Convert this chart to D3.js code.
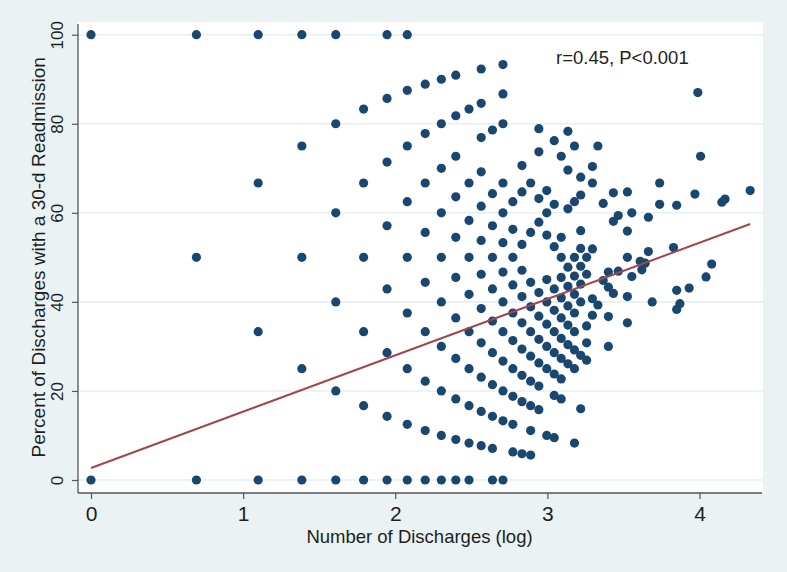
<!DOCTYPE html>
<html>
<head>
<meta charset="utf-8">
<script src="https://cdn.jsdelivr.net/npm/d3@7/dist/d3.min.js"></script>
<style>
  html, body { margin: 0; padding: 0; background: #eaf2f3; }
  svg { display: block; }
  text { font-family: "Liberation Sans", Arial, sans-serif; fill: #1e1e1e; }
</style>
</head>
<body>
<svg id="chart" width="787" height="572"></svg>
<script>
// ---- data ----
// x positions of each column: log(number of discharges)
const columnLogX = [
  0, 0.693, 1.099, 1.386, 1.609, 1.792, 1.946, 2.079, 2.197, 2.303,
  2.398, 2.485, 2.565, 2.639, 2.708, 2.773, 2.833, 2.890, 2.944, 2.996,
  3.045, 3.091, 3.135, 3.178, 3.219, 3.258, 3.296, 3.332, 3.367, 3.401,
  3.434, 3.466, 3.526, 3.555
];
// percent of discharges with a 30-d readmission, per column
const columnPct = [
  [100, 0],
  [100, 50, 0],
  [100, 66.7, 33.3, 0],
  [100, 75, 50, 25, 0],
  [100, 80, 60, 40, 20, 0],
  [83.3, 66.7, 50, 33.3, 16.7, 0],
  [100, 85.7, 71.4, 57.1, 42.9, 28.6, 14.3, 0],
  [100, 87.5, 75, 62.5, 50, 37.5, 25, 12.5, 0],
  [88.9, 77.8, 66.7, 55.6, 44.4, 33.3, 22.2, 11.1, 0],
  [90, 80, 70, 60, 50, 40, 30, 20, 10, 0],
  [90.9, 81.8, 72.7, 63.6, 54.5, 45.5, 36.4, 27.3, 18.2, 9.1, 0],
  [83.3, 66.7, 58.3, 50, 41.7, 33.3, 25, 16.7, 8.3, 0],
  [92.3, 84.6, 76.9, 69.2, 61.5, 53.8, 46.2, 38.5, 30.8, 23.1, 15.4, 7.7],
  [78.6, 64.3, 57.1, 50, 42.9, 35.7, 28.6, 21.4, 14.3, 7.1, 0],
  [93.3, 86.7, 80, 66.7, 60, 53.3, 46.7, 40, 33.3, 26.7, 20, 13.3, 0],
  [62.5, 56.3, 50, 43.8, 37.5, 31.3, 25, 18.8, 12.5, 6.3],
  [70.6, 64.7, 52.9, 47.1, 41.2, 35.3, 29.4, 23.5, 17.6, 5.9],
  [66.7, 55.6, 44.4, 38.9, 33.3, 27.8, 22.2, 16.7, 11.1, 5.6],
  [78.9, 73.7, 63.2, 57.9, 42.1, 36.8, 31.6, 26.3, 21.1, 15.8],
  [65, 60, 55, 45, 40, 35, 30, 25, 10],
  [76.2, 61.9, 52.4, 42.9, 38.1, 33.3, 28.6, 23.8, 19.0, 9.5],
  [72.7, 54.5, 50, 45.5, 40.9, 36.4, 31.8, 27.3, 22.7, 18.2],
  [78.3, 69.6, 60.9, 47.8, 43.5, 39.1, 34.8, 30.4, 26.1],
  [75, 62.5, 50, 45.8, 41.7, 37.5, 33.3, 29.2, 25, 8.3],
  [68, 64, 56, 52, 48, 44, 40, 28, 16],
  [50, 46.2, 34.6, 30.8, 26.9],
  [70.4, 66.7, 51.9, 40.7, 37.0],
  [75, 39.3],
  [62.1, 44.8],
  [46.7, 43.3, 36.7, 30],
  [64.5, 58.1, 41.9],
  [59.4, 46.9],
  [64.7, 55.9, 50, 41.2, 35.3],
  [60, 45.7]
];
// sparse points at the right (large hospitals)
const extraLogX = [3.610, 3.643, 3.621, 3.664, 3.664, 3.689, 3.738, 3.738, 3.829, 3.850,
                   3.850, 3.850, 3.871, 3.932, 3.970, 3.989, 4.007, 4.043, 4.080, 4.147,
                   4.168, 4.333];
const extraPct  = [49.1, 48.7, 47.2, 59.0, 51.3, 40.0, 66.7, 61.9, 52.2, 61.7,
                   42.6, 38.3, 39.6, 43.1, 64.2, 87.0, 72.7, 45.6, 48.5, 62.4,
                   63.1, 65.0];
// linear fit
const fitX = [0, 4.333];
const fitY = [2.7, 57.5];

const xTicks = [0, 1, 2, 3, 4];
const yTicks = [0, 20, 40, 60, 80, 100];
const xTitle = "Number of Discharges (log)";
const yTitle = "Percent of Discharges with a 30-d Readmission";
const annotation = "r=0.45, P<0.001";

// ---- build ----
const points = [];
columnLogX.forEach((x, i) => columnPct[i].forEach(y => points.push({x, y})));
extraLogX.forEach((x, i) => points.push({x, y: extraPct[i]}));

const svg = d3.select("#chart");
const W = 787, H = 572;
const plotL = 78, plotR = 763, plotT = 22, plotB = 493;

const x = d3.scaleLinear().domain([0, 4]).range([91, 699.5]);
const y = d3.scaleLinear().domain([0, 100]).range([480, 34.7]);

svg.append("rect").attr("width", W).attr("height", H).attr("fill", "#eaf2f3");
svg.append("rect").attr("x", plotL).attr("y", plotT)
  .attr("width", plotR - plotL).attr("height", plotB - plotT).attr("fill", "#ffffff");

// gridlines
svg.append("g").selectAll("line").data(yTicks).join("line")
  .attr("x1", plotL).attr("x2", plotR)
  .attr("y1", d => y(d)).attr("y2", d => y(d))
  .attr("stroke", "#e6eff1").attr("stroke-width", 1.6);

// y axis
const yAxis = svg.append("g").attr("transform", `translate(${plotL},0)`)
  .call(d3.axisLeft(y).tickValues(yTicks).tickSize(6).tickPadding(9));
yAxis.select(".domain").attr("d", `M0,${plotT + 2}V${plotB}`).attr("stroke", "#555").attr("stroke-width", 1.3);
yAxis.selectAll(".tick line").attr("stroke", "#555").attr("stroke-width", 1.2);
yAxis.selectAll(".tick text")
  .attr("x", null).attr("dy", null)
  .attr("transform", "translate(-15,0) rotate(-90)")
  .attr("text-anchor", "middle")
  .style("font-size", "17px").style("font-family", "'Liberation Sans', Arial, sans-serif")
  .attr("fill", "#1e1e1e");

// x axis
const xAxis = svg.append("g").attr("transform", `translate(0,${plotB})`)
  .call(d3.axisBottom(x).tickValues(xTicks).tickFormat(d3.format("d")).tickSize(6));
xAxis.select(".domain").attr("d", `M${plotL},0H${plotR - 1}`).attr("stroke", "#555").attr("stroke-width", 1.3);
xAxis.selectAll(".tick line").attr("stroke", "#555").attr("stroke-width", 1.2);
xAxis.selectAll(".tick text")
  .attr("y", 28).attr("dy", null)
  .style("font-size", "21px").style("font-family", "'Liberation Sans', Arial, sans-serif")
  .attr("fill", "#1e1e1e");

// axis titles
svg.append("text").attr("x", (plotL + plotR) / 2 - 1).attr("y", 543)
  .attr("text-anchor", "middle").style("font-size", "18.5px").text(xTitle);
svg.append("text")
  .attr("transform", `translate(45,${(y(0) + y(100)) / 2}) rotate(-90)`)
  .attr("text-anchor", "middle").style("font-size", "19px").text(yTitle);

// points
svg.append("g").selectAll("circle").data(points).join("circle")
  .attr("cx", d => x(d.x)).attr("cy", d => y(d.y)).attr("r", 4.6)
  .attr("fill", "#1a476f");

// fit line
svg.append("path")
  .datum(fitX.map((d, i) => [d, fitY[i]]))
  .attr("d", d3.line().x(d => x(d[0])).y(d => y(d[1])))
  .attr("fill", "none").attr("stroke", "#a0474c").attr("stroke-width", 2);

// annotation
svg.append("text").attr("x", 556).attr("y", 64)
  .style("font-size", "18.5px").text(annotation);
</script>
</body>
</html>
